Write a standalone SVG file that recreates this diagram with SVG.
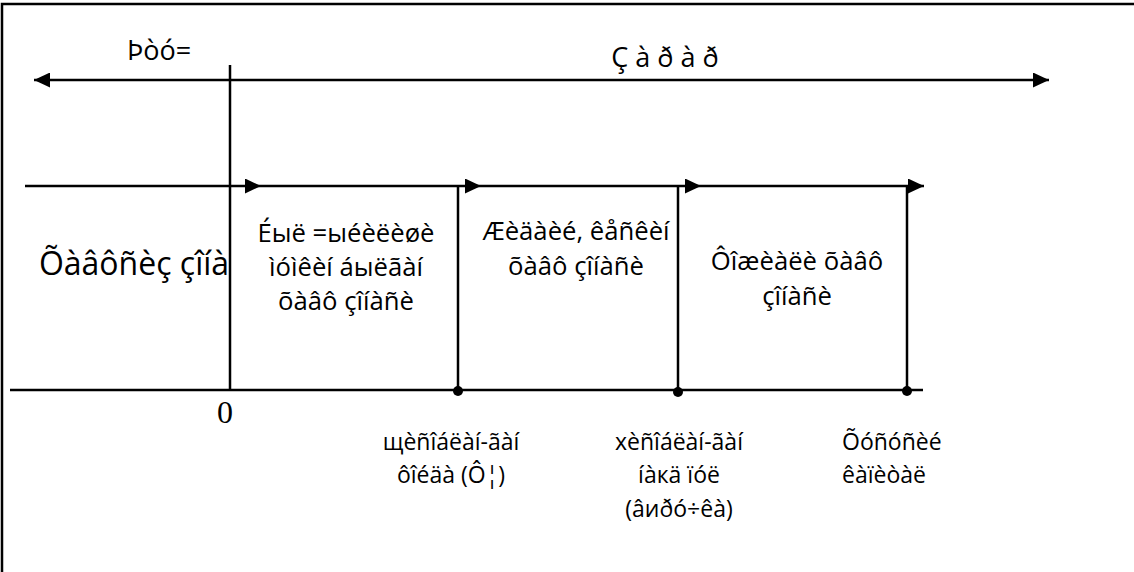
<svg xmlns="http://www.w3.org/2000/svg" width="1134" height="572" viewBox="0 0 1134 572">
<defs>
<marker id="ah" viewBox="0 0 16 15" refX="16" refY="7.5" markerWidth="16" markerHeight="15" markerUnits="userSpaceOnUse" orient="auto-start-reverse">
<path d="M0,0 L16,7.5 L0,15 Z" fill="#000"/>
</marker>
<style>
.ln{stroke:#000;stroke-width:2.5;fill:none}
.t{font-family:"Open Sans","Noto Sans",sans-serif;fill:#000}
.s{font-size:23px}
.b{font-size:25.7px}
.h{font-size:27px}
.m{font-size:32px}
.z{font-family:"Liberation Serif",serif;font-size:32px}
</style>
</defs>
<rect x="0" y="0" width="1134" height="572" fill="#fff"/>
<path d="M2,572 V4 H1134" class="ln"/>
<g id="connectors">
<line x1="34" y1="80" x2="1049" y2="80" class="ln" marker-start="url(#ah)" marker-end="url(#ah)"/>
<line x1="230" y1="65" x2="230" y2="391" class="ln"/>
<line x1="25" y1="186" x2="261" y2="186" class="ln" marker-end="url(#ah)"/>
<line x1="261" y1="186" x2="481" y2="186" class="ln" marker-end="url(#ah)"/>
<line x1="481" y1="186" x2="701" y2="186" class="ln" marker-end="url(#ah)"/>
<line x1="701" y1="186" x2="924" y2="186" class="ln" marker-end="url(#ah)"/>
<line x1="458" y1="186" x2="458" y2="390" class="ln"/>
<line x1="678" y1="186" x2="678" y2="390" class="ln"/>
<line x1="907" y1="186" x2="907" y2="390" class="ln"/>
<line x1="10" y1="390" x2="923" y2="390" class="ln"/>
<circle cx="458" cy="391" r="5"/>
<circle cx="678" cy="392" r="5"/>
<circle cx="907" cy="391" r="5"/>
</g>
<g id="label-past"><text class="t h" x="159" y="60" text-anchor="middle">Þòó=</text></g>
<g id="label-present"><text class="t h" x="665" y="67" text-anchor="middle" xml:space="preserve">Ç à ð à ð</text></g>
<g id="zone-danger"><text class="t m" x="134" y="275" text-anchor="middle">Õàâôñèç çîíà</text></g>
<g id="zone-1"><text class="t b" text-anchor="middle"><tspan x="346" y="242">Éыë =ыéèëèøè</tspan><tspan x="346" y="276">ìóìêèí áыëãàí</tspan><tspan x="346" y="310">õàâô çîíàñè</tspan></text></g>
<g id="zone-2"><text class="t b" text-anchor="middle"><tspan x="576" y="240">Æèäàèé, êåñêèí</tspan><tspan x="576" y="275">õàâô çîíàñè</tspan></text></g>
<g id="zone-3"><text class="t b" text-anchor="middle"><tspan x="797" y="270">Ôîæèàëè õàâô</tspan><tspan x="797" y="305">çîíàñè</tspan></text></g>
<g id="zero"><text class="z" x="225" y="423" text-anchor="middle">0</text></g>
<g id="point-1"><text class="t s" text-anchor="middle"><tspan x="451" y="450">щèñîáëàí-ãàí</tspan><tspan x="451" y="483">ôîéäà (Ô¦)</tspan></text></g>
<g id="point-2"><text class="t s" text-anchor="middle"><tspan x="679" y="450">xèñîáëàí-ãàí</tspan><tspan x="679" y="483">íàкä ïóë</tspan><tspan x="679" y="517">(âиðó÷êà)</tspan></text></g>
<g id="point-3"><text class="t s"><tspan x="842" y="450">Õóñóñèé</tspan><tspan x="842" y="483">êàïèòàë</tspan></text></g>
</svg>
